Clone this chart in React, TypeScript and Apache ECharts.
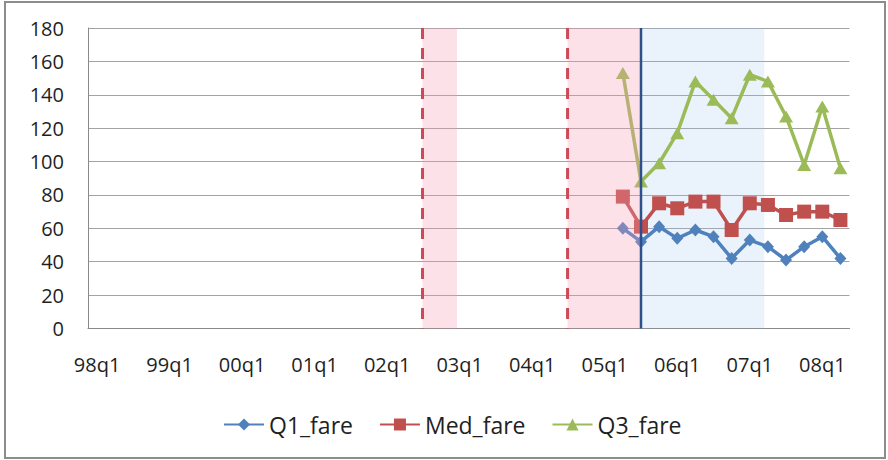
import React, { useEffect, useRef } from "react";
import * as echarts from "echarts";

// Quarterly category axis, 1998 Q1 to 2008 Q2
const quarters = [
  "98q1", "98q2", "98q3", "98q4",
  "99q1", "99q2", "99q3", "99q4",
  "00q1", "00q2", "00q3", "00q4",
  "01q1", "01q2", "01q3", "01q4",
  "02q1", "02q2", "02q3", "02q4",
  "03q1", "03q2", "03q3", "03q4",
  "04q1", "04q2", "04q3", "04q4",
  "05q1", "05q2", "05q3", "05q4",
  "06q1", "06q2", "06q3", "06q4",
  "07q1", "07q2", "07q3", "07q4",
  "08q1", "08q2",
];

// Observed fares start in 05q2
const firstObserved = "05q2";
const q1Fare = [60, 52, 61, 54, 59, 55, 42, 53, 49, 41, 49, 55, 42];
const medFare = [79, 61, 75, 72, 76, 76, 59, 75, 74, 68, 70, 70, 65];
const q3Fare = [153, 88, 99, 117, 148, 137, 126, 152, 148, 127, 98, 133, 96];

const yTicks = { min: 0, max: 180, step: 20 };

// Event windows, in quarter units measured from the left edge of the axis
const pinkWindows: [number, number][] = [
  [18.45, 20.35],
  [26.45, 30.5],
];
const blueWindow: [number, number][] = [[30.5, 37.3]];
const dashedMarkers: [number, number][] = [
  [18.45, 0],
  [26.45, 0],
];
const solidMarker: [number, number][] = [[30.5, 0]];

const FONT = '"Open Sans", "Noto Sans", sans-serif';

function pad(values: number[]): (number | null)[] {
  const start = quarters.indexOf(firstObserved);
  const out: (number | null)[] = quarters.map(() => null);
  values.forEach((v, i) => {
    out[start + i] = v;
  });
  return out;
}

function bandRenderer(fill: string) {
  return (params: any, api: any) => {
    const a = api.coord([api.value(0), yTicks.max]);
    const b = api.coord([api.value(1), yTicks.min]);
    return {
      type: "rect",
      shape: { x: a[0], y: a[1], width: b[0] - a[0], height: b[1] - a[1] },
      style: { fill },
    };
  };
}

function lineRenderer(stroke: string, width: number, dash?: number[]) {
  return (params: any, api: any) => {
    const a = api.coord([api.value(0), yTicks.max]);
    const b = api.coord([api.value(0), yTicks.min]);
    return {
      type: "line",
      shape: { x1: a[0], y1: a[1], x2: b[0], y2: b[1] },
      style: { stroke, lineWidth: width, lineDash: dash, fill: null },
    };
  };
}

export default function App() {
  const ref = useRef<HTMLDivElement>(null);

  useEffect(() => {
    if (!ref.current) return;
    const chart = echarts.init(ref.current, null, { renderer: "svg" });

    const lineSeries = (
      name: string,
      values: number[],
      color: string,
      symbol: string,
      symbolSize: number | number[],
      z: number
    ) => ({
      name,
      type: "line",
      data: pad(values),
      xAxisIndex: 0,
      yAxisIndex: 0,
      symbol,
      symbolSize,
      showSymbol: true,
      showAllSymbol: true,
      connectNulls: false,
      lineStyle: { color, width: 3.5 },
      itemStyle: { color, borderWidth: 0 },
      z,
    });

    chart.setOption({
      animation: false,
      backgroundColor: "#ffffff",
      textStyle: { fontFamily: FONT },
      graphic: [
        {
          type: "rect",
          shape: { x: 5, y: 2, width: 880, height: 456 },
          style: { fill: "none", stroke: "#8c8c8c", lineWidth: 2 },
          silent: true,
        },
      ],
      grid: { left: 88, top: 28, width: 761.5, height: 300.5, containLabel: false },
      xAxis: [
        {
          type: "category",
          data: quarters,
          boundaryGap: true,
          axisLine: { show: true, lineStyle: { color: "#8a8a8a", width: 1 } },
          axisTick: { show: false },
          axisLabel: {
            interval: 3,
            fontSize: 20,
            color: "#1f1f1f",
            margin: 26,
            fontFamily: FONT,
          },
          splitLine: { show: false },
        },
        {
          type: "value",
          min: 0,
          max: quarters.length,
          show: false,
        },
      ],
      yAxis: {
        type: "value",
        min: yTicks.min,
        max: yTicks.max,
        interval: yTicks.step,
        axisLine: { show: true, lineStyle: { color: "#8a8a8a", width: 1 } },
        axisTick: { show: false },
        axisLabel: { fontSize: 20, color: "#1f1f1f", margin: 24, fontFamily: FONT },
        splitLine: { show: true, lineStyle: { color: "#a3a3a3", width: 1 } },
      },
      legend: {
        data: ["Q1_fare", "Med_fare", "Q3_fare"],
        left: 218,
        top: 408,
        itemWidth: 40,
        itemHeight: 15,
        itemGap: 26,
        textStyle: { fontSize: 23, color: "#1f1f1f", fontFamily: FONT },
      },
      series: [
        {
          type: "custom",
          xAxisIndex: 1,
          yAxisIndex: 0,
          data: blueWindow,
          renderItem: bandRenderer("rgba(151,190,236,0.2)"),
          silent: true,
          z: 1,
        },
        lineSeries("Q1_fare", q1Fare, "#4f81bd", "diamond", [12, 13], 3),
        lineSeries("Med_fare", medFare, "#c0504d", "rect", 14, 4),
        lineSeries("Q3_fare", q3Fare, "#9bbb59", "triangle", [14, 12], 5),
        {
          type: "custom",
          xAxisIndex: 1,
          yAxisIndex: 0,
          data: pinkWindows,
          renderItem: bandRenderer("rgba(248,155,178,0.3)"),
          silent: true,
          z: 8,
        },
        {
          type: "custom",
          xAxisIndex: 1,
          yAxisIndex: 0,
          data: dashedMarkers,
          renderItem: lineRenderer("#cc4a55", 3, [11, 9]),
          silent: true,
          z: 9,
        },
        {
          type: "custom",
          xAxisIndex: 1,
          yAxisIndex: 0,
          data: solidMarker,
          renderItem: lineRenderer("#2d4f8a", 2.5),
          silent: true,
          z: 10,
        },
      ],
    });

    return () => chart.dispose();
  }, []);

  return (
    <div
      ref={ref}
      style={{ position: "absolute", left: 0, top: 0, width: 888, height: 460, background: "#fff" }}
    />
  );
}
